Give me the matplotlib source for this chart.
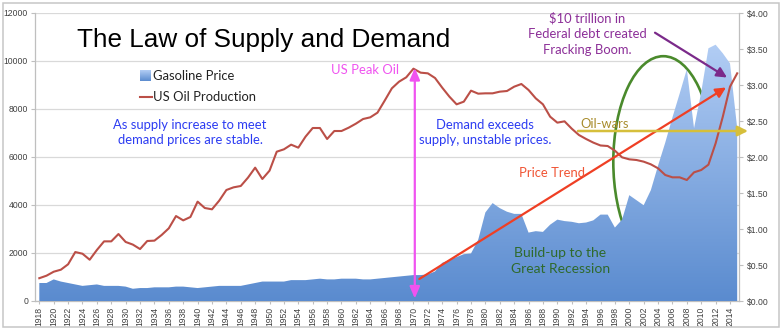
import matplotlib
matplotlib.use("Agg")
import matplotlib.pyplot as plt
import numpy as np
from matplotlib.colors import LinearSegmentedColormap
from matplotlib.patches import Ellipse, Rectangle

# ---------------- data ----------------
years = list(range(1918, 2016))

oil_production = [
    950, 1055, 1220, 1305, 1530, 2040, 1970, 1720, 2125, 2485,   # 1918-1927
    2485, 2790, 2460, 2350, 2165, 2500, 2515, 2750, 3030, 3540,  # 1928-1937
    3360, 3500, 4140, 3875, 3820, 4180, 4625, 4736, 4792, 5139,  # 1938-1947
    5556, 5083, 5431, 6222, 6320, 6514, 6389, 6847, 7208, 7208,  # 1948-1957
    6750, 7083, 7083, 7222, 7389, 7583, 7653, 7847, 8347, 8861,  # 1958-1967
    9139, 9320, 9680, 9514, 9486, 9292, 8889, 8514, 8194, 8306,  # 1968-1977
    8764, 8639, 8653, 8653, 8722, 8750, 8930, 9042, 8792, 8444,  # 1978-1987
    8194, 7680, 7431, 7486, 7181, 6917, 6750, 6600, 6480, 6458,  # 1988-1997
    6264, 5986, 5903, 5875, 5806, 5694, 5528, 5250, 5153, 5153,  # 1998-2007
    5042, 5361, 5458, 5680, 6570, 7680, 8930, 9486,              # 2008-2015
]

gasoline_price = [
    0.25, 0.25, 0.30, 0.27, 0.25, 0.23, 0.21, 0.22, 0.23, 0.21,  # 1918-1927
    0.21, 0.21, 0.20, 0.17, 0.18, 0.18, 0.19, 0.19, 0.19, 0.20,  # 1928-1937
    0.20, 0.19, 0.18, 0.19, 0.20, 0.21, 0.21, 0.21, 0.21, 0.23,  # 1938-1947
    0.25, 0.27, 0.27, 0.27, 0.27, 0.29, 0.29, 0.29, 0.30, 0.31,  # 1948-1957
    0.30, 0.30, 0.31, 0.31, 0.31, 0.30, 0.30, 0.31, 0.32, 0.33,  # 1958-1967
    0.34, 0.35, 0.36, 0.36, 0.37, 0.41, 0.53, 0.57, 0.61, 0.65,  # 1968-1977
    0.66, 0.85, 1.23, 1.36, 1.29, 1.24, 1.21, 1.21, 0.95, 0.97,  # 1978-1987
    0.96, 1.06, 1.13, 1.11, 1.10, 1.08, 1.09, 1.12, 1.20, 1.20,  # 1988-1997
    1.02, 1.13, 1.47, 1.40, 1.33, 1.54, 1.88, 2.20, 2.55, 2.88,  # 1998-2007
    3.22, 2.40, 2.90, 3.51, 3.56, 3.44, 3.30, 2.40,              # 2008-2015
]

year_labels = [str(y) for y in years[::2]]
left_ticks = [0, 2000, 4000, 6000, 8000, 10000, 12000]
right_ticks = [0.0, 0.5, 1.0, 1.5, 2.0, 2.5, 3.0, 3.5, 4.0]
right_labels = ["$%.2f" % v for v in right_ticks]

title = "The Law of Supply and Demand"
legend_labels = ["Gasoline Price", "US Oil Production"]

# ---------------- figure ----------------
W, H = 782, 330
fig = plt.figure(figsize=(W / 100, H / 100), dpi=100)
fig.patch.set_facecolor("white")


def F(x, y):
    """pixel position -> figure fraction"""
    return (x / W, 1 - y / H)


pos = [35 / W, 1 - 301 / H, (739 - 35) / W, (301 - 13) / H]
ax1 = fig.add_axes(pos)
ax2 = ax1.twinx()
ax3 = fig.add_axes(pos, sharex=ax1)
ax1.set_zorder(0)
ax2.set_zorder(1)
ax3.set_zorder(2)
ax2.patch.set_visible(False)
ax3.patch.set_visible(False)

xmin, xmax = 1917.4, 2015.25
GRAY = "#bfbfbf"
LBL = "#404040"
tick_font = "Liberation Sans"

# left axis with grid
ax1.set_xlim(xmin, xmax)
ax1.set_ylim(0, 12000)
ax1.set_yticks(left_ticks)
ax1.set_yticklabels([str(v) for v in left_ticks], fontsize=6.2, color=LBL,
                    family=tick_font)
ax1.set_xticks(years[::2])
ax1.set_xticklabels(year_labels, rotation=90, fontsize=6.2, color=LBL,
                    family=tick_font)
ax1.grid(axis="y", color="#d9d9d9", lw=0.9)
ax1.set_axisbelow(True)
ax1.tick_params(axis="y", length=3, width=0.8, color=GRAY, pad=2)
ax1.tick_params(axis="x", length=2.5, width=0.8, color=GRAY, pad=1.5)
for s in ["top", "right"]:
    ax1.spines[s].set_visible(False)
for s in ["left", "bottom"]:
    ax1.spines[s].set_color(GRAY)
    ax1.spines[s].set_linewidth(0.9)

# right axis: gasoline price area with gradient
ax2.set_ylim(0, 4)
ax2.set_yticks(right_ticks)
ax2.set_yticklabels(right_labels, fontsize=6.2, color=LBL, family=tick_font)
ax2.tick_params(axis="y", length=3, width=0.8, color=GRAY, pad=3)
for s in ["top", "left", "bottom"]:
    ax2.spines[s].set_visible(False)
ax2.spines["right"].set_color(GRAY)
ax2.spines["right"].set_linewidth(0.9)

poly = ax2.fill_between(years, 0, gasoline_price, facecolor="none",
                        edgecolor="none")
cmap = LinearSegmentedColormap.from_list("gas", ["#5a8bcf", "#b3cef5"])
grad = np.linspace(0, 1, 256).reshape(-1, 1)
im = ax2.imshow(grad, extent=[xmin, xmax, 0, 3.6], origin="lower",
                aspect="auto", cmap=cmap, zorder=1)
im.set_clip_path(poly.get_paths()[0], transform=ax2.transData)
ax2.set_xlim(xmin, xmax)
ax2.set_ylim(0, 4)

# oil production line on top
ax3.set_xlim(xmin, xmax)
ax3.set_ylim(0, 12000)
ax3.plot(years, oil_production, color="#bb4f47", lw=1.5, solid_joinstyle="round",
         zorder=3)
ax3.axis("off")

# ---------------- text & annotations ----------------
ann_font = ["Lato", "DejaVu Sans"]
FS = 9.4

fig.text(*F(263.5, 47), title, fontsize=18.8, family="Liberation Sans",
         ha="center", va="baseline", color="black")

# legend
lax = fig.add_axes([140 / W, 1 - 81 / H, 11 / W, 11 / H])
lax.imshow(grad, origin="lower", aspect="auto", cmap=cmap)
lax.axis("off")
fig.add_artist(plt.Line2D([140 / W, 152 / W], [1 - 96.7 / H, 1 - 96.7 / H],
                          color="#bb4f47", lw=1.5, transform=fig.transFigure))
fig.text(*F(153, 79.5), legend_labels[0], fontsize=FS, family=ann_font,
         color="#222222", va="baseline")
fig.text(*F(153, 100.7), legend_labels[1], fontsize=FS, family=ann_font,
         color="#222222", va="baseline")

BLUE = "#2c3cf2"
fig.text(*F(190, 129.3), "As supply increase to meet", fontsize=FS,
         family=ann_font, color=BLUE, ha="center", va="baseline")
fig.text(*F(190, 144.5), "demand prices are stable.", fontsize=FS,
         family=ann_font, color=BLUE, ha="center", va="baseline")

MAG = "#f053f0"
fig.text(*F(365, 74), "US Peak Oil", fontsize=FS, family=ann_font, color=MAG,
         ha="center", va="baseline")
ax3.annotate("", xy=F(414.8, 68), xytext=F(414.8, 298.5),
             xycoords="figure fraction", textcoords="figure fraction",
             arrowprops=dict(arrowstyle="<|-|>,head_length=0.7,head_width=0.3",
                             color=MAG, lw=1.6, shrinkA=0, shrinkB=0),
             annotation_clip=False)

fig.text(*F(485, 129.3), "Demand exceeds", fontsize=FS, family=ann_font,
         color=BLUE, ha="center", va="baseline")
fig.text(*F(485, 144.5), "supply, unstable prices.", fontsize=FS,
         family=ann_font, color=BLUE, ha="center", va="baseline")

RED = "#ef3f24"
fig.text(*F(551.7, 176.7), "Price Trend", fontsize=FS, family=ann_font,
         color="#f05434", ha="center", va="baseline")
ax3.annotate("", xy=F(726, 87.5), xytext=F(419.3, 279),
             xycoords="figure fraction", textcoords="figure fraction",
             arrowprops=dict(arrowstyle="-|>,head_length=0.6,head_width=0.3",
                             color=RED, lw=1.6, shrinkA=0, shrinkB=0),
             annotation_clip=False)

GOLD = "#d6bf3b"
fig.text(*F(580, 128.3), "Oil-wars", fontsize=FS, family=ann_font,
         color="#a88c2c", ha="left", va="baseline")
ax3.annotate("", xy=F(748, 131), xytext=F(578, 131),
             xycoords="figure fraction", textcoords="figure fraction",
             arrowprops=dict(arrowstyle="-|>,head_length=0.6,head_width=0.3",
                             color=GOLD, lw=1.8, shrinkA=0, shrinkB=0),
             annotation_clip=False)

PURP = "#8c2f98"
for txt, yb in [("$10 trillion in", 22.7), ("Federal debt created", 38.3),
                ("Fracking Boom.", 54)]:
    fig.text(*F(587.5, yb), txt, fontsize=FS, family=ann_font, color=PURP,
             ha="center", va="baseline")
ax3.annotate("", xy=F(727, 77.5), xytext=F(655, 32.7),
             xycoords="figure fraction", textcoords="figure fraction",
             arrowprops=dict(arrowstyle="-|>,head_length=0.6,head_width=0.3",
                             color="#7b2a8a", lw=1.6, shrinkA=0, shrinkB=0),
             annotation_clip=False)

GREEN = "#2f6a2c"
fig.text(*F(560.5, 257.3), "Build-up to the", fontsize=10, family=ann_font,
         color=GREEN, ha="center", va="baseline")
fig.text(*F(561, 273.3), "Great Recession", fontsize=10, family=ann_font,
         color=GREEN, ha="center", va="baseline")

ell = Ellipse(F(663.3, 161.7), 100 / W, 211 / H, transform=fig.transFigure,
              facecolor="none", edgecolor="#4a8a2c", lw=1.9)
fig.add_artist(ell)

# outer frame
fig.add_artist(Rectangle((2.7 / W, 1 - 326.5 / H), (779 - 2.7) / W,
                         (326.5 - 3.3) / H, transform=fig.transFigure,
                         facecolor="none", edgecolor="#c6c6c6", lw=1.1))

fig.savefig("out.png", dpi=100)
